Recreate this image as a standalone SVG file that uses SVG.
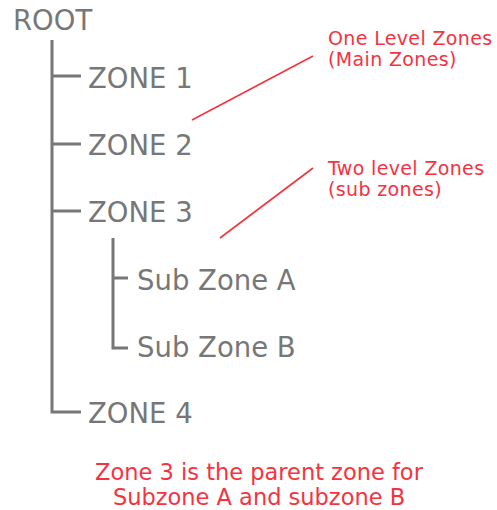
<svg xmlns="http://www.w3.org/2000/svg" width="497" height="510" viewBox="0 0 497 510">
<style>
.t{font-family:"DejaVu Sans",Verdana,sans-serif;font-size:27.5px;fill:#777}
.r{font-family:"DejaVu Sans",Verdana,sans-serif;fill:#f5333f}
.c{font-size:19px;letter-spacing:0.35px}
.b{font-size:22.5px}
.ln{stroke:#777;stroke-width:3;fill:none}
.rl{stroke:#f5333f;stroke-width:1.6;fill:none}
</style>
<rect width="497" height="510" fill="#fff"/>
<g id="connectors">
<path class="ln" d="M52 40V412H81M52 76H81M52 144H81M52 211H81"/>
<path class="ln" d="M113 238V348H128M113 278H128"/>
<line class="rl" x1="192" y1="120" x2="313" y2="56"/>
<line class="rl" x1="220" y1="238" x2="313" y2="168"/>
</g>
<g id="root"><text class="t" x="13" y="30">ROOT</text></g>
<g id="zone1"><text class="t" x="88" y="88">ZONE 1</text></g>
<g id="zone2"><text class="t" x="88" y="155">ZONE 2</text></g>
<g id="zone3"><text class="t" x="88" y="222">ZONE 3</text></g>
<g id="subA"><text class="t" x="137" y="290">Sub Zone A</text></g>
<g id="subB"><text class="t" x="137" y="357">Sub Zone B</text></g>
<g id="zone4"><text class="t" x="88" y="423">ZONE 4</text></g>
<g id="note1"><text class="r c" x="328" y="45">One Level Zones</text><text class="r c" x="328" y="66">(Main Zones)</text></g>
<g id="note2"><text class="r c" x="328" y="175">Two level Zones</text><text class="r c" x="328" y="196">(sub zones)</text></g>
<g id="caption"><text class="r b" x="259" y="480" text-anchor="middle">Zone 3 is the parent zone for</text><text class="r b" x="259" y="505" text-anchor="middle">Subzone A and subzone B</text></g>
</svg>
